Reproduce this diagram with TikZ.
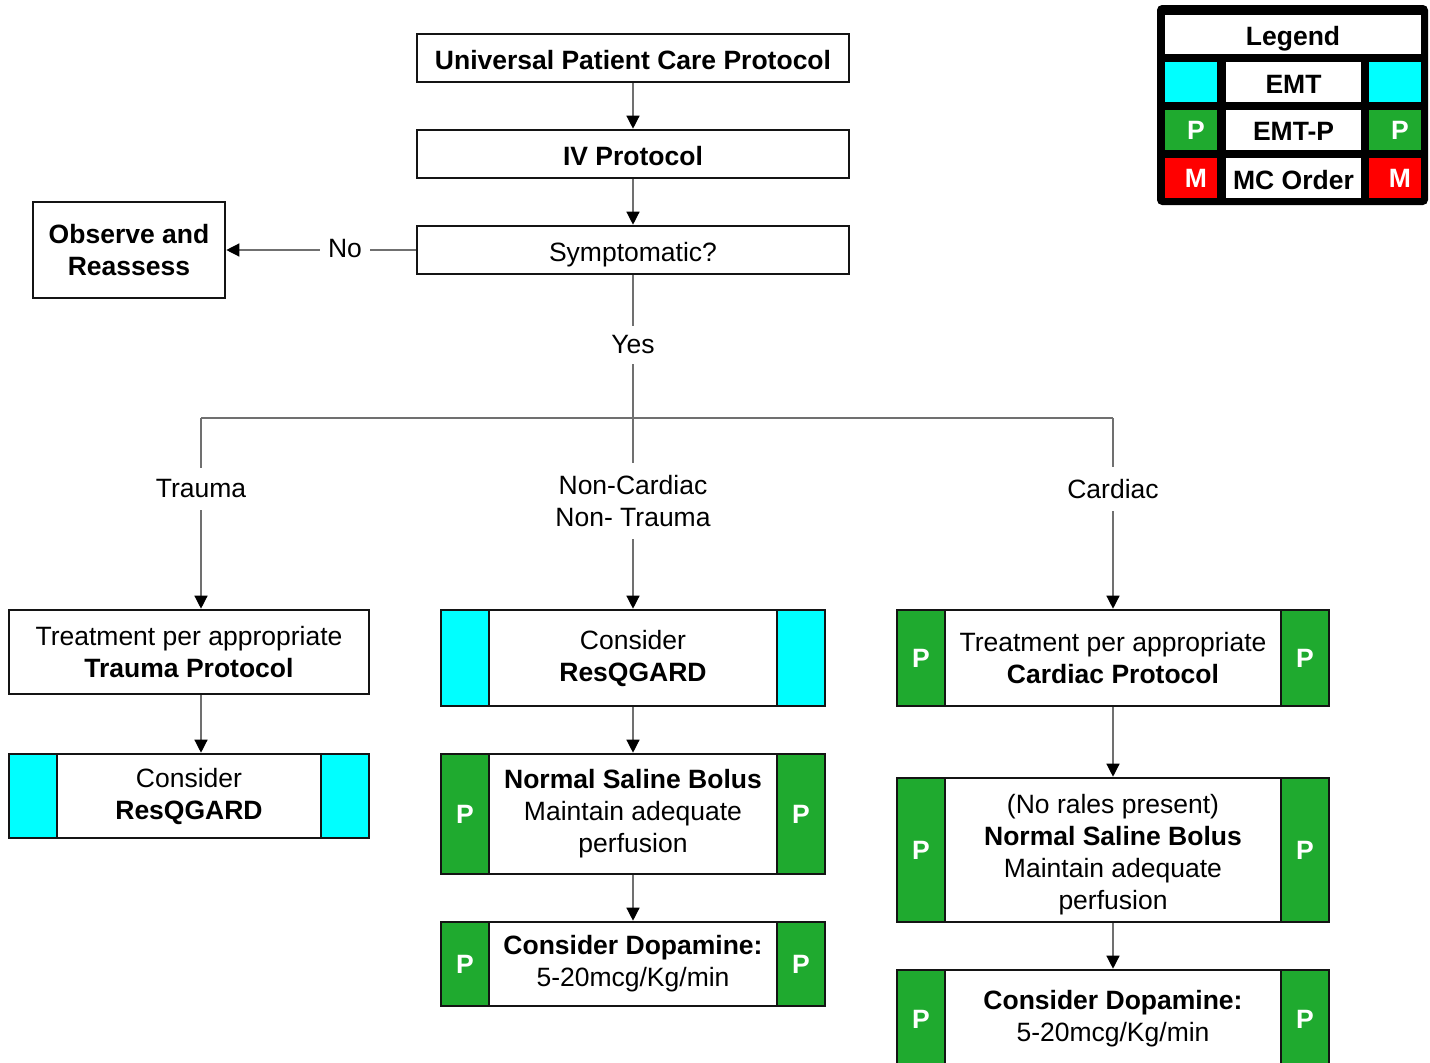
\documentclass[tikz,border=0pt]{standalone}
\usepackage{fontspec}
\setmainfont{Liberation Sans}
\usetikzlibrary{arrows.meta,calc}
\definecolor{pgreen}{RGB}{31,170,47}
\definecolor{ecyan}{RGB}{0,255,255}
\definecolor{mred}{RGB}{255,0,0}
\definecolor{conn}{RGB}{112,112,112}
\definecolor{bord}{RGB}{20,20,20}
\tikzset{
  box/.style={draw=bord, line width=2.6pt, fill=white, inner sep=0pt, align=center},
  sbar/.style={draw=bord, line width=2.6pt, minimum width=48pt, inner sep=0pt, text=white, font=\bfseries},
  conline/.style={draw=conn, line width=1.3pt},
  arr/.style={conline, -{Triangle[width=13pt,length=13pt,color=black]}},
  lbl/.style={fill=white, inner sep=6pt, align=center},
  legcell/.style={inner sep=0pt, minimum height=40pt, font=\bfseries},
}
\newcommand{\sidebars}[4]{%
  \node[sbar, fill=#3, minimum height=#2, anchor=north west] (#1L) at (#1.north west) {#4};
  \node[sbar, fill=#3, minimum height=#2, anchor=north east] (#1R) at (#1.north east) {#4};}
\newcommand{\dn}[2]{\raisebox{-#1}[\height][\depth]{#2}}
\begin{document}
\begin{tikzpicture}[x=1pt,y=-1pt]
\fontsize{26.5}{32}\selectfont
\useasboundingbox (0,0) rectangle (1430,1063);

% top chain
\node[box, minimum width=432pt, minimum height=48pt, font=\bfseries] (U) at (633,58) {\dn{2pt}{Universal Patient Care Protocol}};
\node[box, minimum width=432pt, minimum height=48pt, font=\bfseries] (IV) at (633,154) {\dn{2pt}{IV Protocol}};
\node[box, minimum width=432pt, minimum height=48pt] (S) at (633,250) {\dn{5pt}{Symptomatic?}};
\node[box, minimum width=192pt, minimum height=96pt, font=\bfseries] (O) at (129,250) {Observe and\\Reassess};

% branches
\coordinate (split) at (633,418);
\coordinate (tl) at (201,418);
\coordinate (tr) at (1113,418);

% trauma column
\node[box, minimum width=360pt, minimum height=84pt] (T1) at (189,652) {Treatment per appropriate\\\textbf{Trauma Protocol}};
\node[box, minimum width=360pt, minimum height=84pt] (T2) at (189,796) {Consider\\\textbf{ResQGARD}};
\sidebars{T2}{84pt}{ecyan}{}

% middle column
\node[box, minimum width=384pt, minimum height=96pt] (M1) at (633,658) {Consider\\\textbf{ResQGARD}};
\sidebars{M1}{96pt}{ecyan}{}
\node[box, minimum width=384pt, minimum height=120pt] (M2) at (633,814) {\textbf{Normal Saline Bolus}\\Maintain adequate\\perfusion};
\sidebars{M2}{120pt}{pgreen}{P}
\node[box, minimum width=384pt, minimum height=84pt] (M3) at (633,964) {\textbf{Consider Dopamine:}\\5-20mcg/Kg/min};
\sidebars{M3}{84pt}{pgreen}{P}

% cardiac column
\node[box, minimum width=432pt, minimum height=96pt] (C1) at (1113,658) {Treatment per appropriate\\\textbf{Cardiac Protocol}};
\sidebars{C1}{96pt}{pgreen}{P}
\node[box, minimum width=432pt, minimum height=144pt] (C2) at (1113,850) {};
\sidebars{C2}{144pt}{pgreen}{P}
\node[align=center, inner sep=0pt] (C2t) at (1113,855) {(No rales present)\\\textbf{Normal Saline Bolus}\\Maintain adequate\\perfusion};
\node[box, minimum width=432pt, minimum height=98pt] (C3) at (1113,1019) {\textbf{Consider Dopamine:}\\5-20mcg/Kg/min};
\sidebars{C3}{98pt}{pgreen}{P}

% connectors
\draw[arr] (U.south) -- (IV.north);
\draw[arr] (IV.south) -- (S.north);
\draw[arr] (S.west) -- (O.east);
\draw[conline] (S.south) -- (split);
\draw[conline] (tl) -- (tr);
\draw[arr] (tl) -- (tl |- T1.north);
\draw[arr] (split) -- (M1.north);
\draw[arr] (tr) -- (C1.north);
\draw[arr] (tl |- T1.south) -- (tl |- T2.north);
\draw[arr] (M1.south) -- (M2.north);
\draw[arr] (M2.south) -- (M3.north);
\draw[arr] (C1.south) -- (C2.north);
\draw[arr] (C2.south) -- (C3.north);

% labels
\node[lbl, inner xsep=8pt] (lno) at (345,249) {No};
\node[lbl, inner ysep=10pt] (lyes) at (633,345) {Yes};
\node[lbl, inner ysep=12pt] (ltr) at (201,489) {Trauma};
\node[lbl, inner ysep=12pt] (lnc) at (633,501) {Non-Cardiac\\Non- Trauma};
\node[lbl, inner ysep=12pt] (lca) at (1113,489) {Cardiac};

% legend
\node[fill=black, rounded corners=5pt, minimum width=271pt, minimum height=200pt, inner sep=0pt] (leg) at (1292.5,105) {};
\node[legcell, fill=white, minimum width=256pt, minimum height=39pt] (legT) at (1293,34) {\dn{5pt}{Legend}};
\node[legcell, fill=ecyan, minimum width=52pt] (leg1L) at (1191,82) {};
\node[legcell, fill=white, minimum width=135pt] (leg1M) at (1293.5,82) {\dn{2pt}{EMT}};
\node[legcell, fill=ecyan, minimum width=52pt] (leg1R) at (1395,82) {};
\node[legcell, fill=pgreen, minimum width=52pt, text=white] (leg2L) at (1191,130) {\hspace*{10pt}P};
\node[legcell, fill=white, minimum width=135pt] (leg2M) at (1293.5,130) {\dn{1pt}{EMT-P}};
\node[legcell, fill=pgreen, minimum width=52pt, text=white] (leg2R) at (1395,130) {\hspace*{10pt}P};
\node[legcell, fill=mred, minimum width=52pt, text=white] (leg3L) at (1191,178) {\hspace*{10pt}M};
\node[legcell, fill=white, minimum width=135pt] (leg3M) at (1293.5,178) {\dn{2pt}{MC Order}};
\node[legcell, fill=mred, minimum width=52pt, text=white] (leg3R) at (1395,178) {\hspace*{10pt}M};
\end{tikzpicture}
\end{document}
